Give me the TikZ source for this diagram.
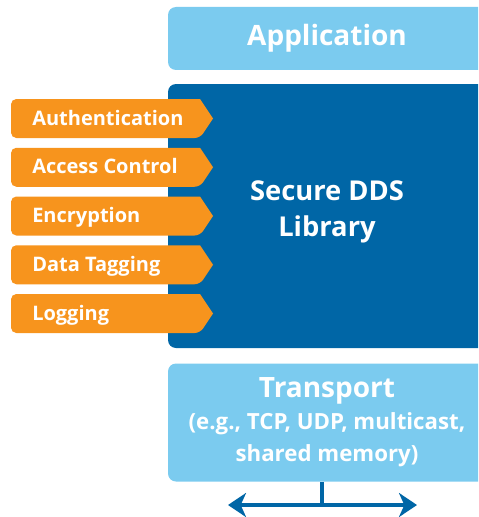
\documentclass[tikz,border=0pt]{standalone}
\usepackage{fontspec}
\setmainfont{Open Sans}
\usetikzlibrary{arrows.meta}
\definecolor{appblue}{HTML}{7BCBEF}
\definecolor{libblue}{HTML}{0066A6}
\definecolor{taborange}{HTML}{F7941D}
\tikzset{
  stackbox/.style={fill=appblue, rounded corners=6pt, minimum width=238.5pt, text=white, font=\bfseries, inner sep=0pt},
  tabtext/.style={text=white, font=\bfseries\fontsize{15}{18}\selectfont, inner sep=0pt, anchor=base west},
  wire/.style={libblue, line width=3pt}
}
\begin{document}
\begin{tikzpicture}[x=0.75pt,y=-0.75pt]
\useasboundingbox (0,0) rectangle (478,517);
\clip (0,0) rectangle (478,517);
% the three layers, running off the right edge
\node[stackbox, minimum height=47.25pt] (app) at (327,38.5) {\fontsize{21}{24}\selectfont Application};
\node[stackbox, fill=libblue, minimum height=198pt] (lib) at (327,216) {};
\node[text=white, font=\bfseries\fontsize{20.5}{27}\selectfont, align=center] (libname) at (327,212) {Secure DDS\\Library};
\node[stackbox, minimum height=88.5pt, align=center, font=\bfseries\fontsize{16.7}{24}\selectfont] (transport) at (327,422.5)
  {{\fontsize{21}{24}\selectfont Transport}\\(e.g., TCP, UDP, multicast,\\shared memory)};
% plugin tabs on the library
\foreach \name/\txt [count=\i] in {auth/Authentication, access/Access Control, crypto/Encryption, tagging/Data Tagging, logging/Logging} {
  \pgfmathsetmacro\yc{118.5+48.75*(\i-1)}
  \fill[taborange] (213,\yc) -- (200,\yc-19.5) [rounded corners=4pt]-- (11,\yc-19.5) -- (11,\yc+19.5) -- (200,\yc+19.5) [sharp corners]-- cycle;
  \node[tabtext] (\name) at (32,\yc+6.5) {\txt};
}
% network below the transport
\coordinate (split) at (322,505);
\coordinate (westend) at (228,505);
\coordinate (eastend) at (417,505);
\draw[wire] (transport.south -| split) -- (split);
\draw[wire, {Stealth[length=13.5pt,width=18pt,inset=4pt]}-{Stealth[length=13.5pt,width=18pt,inset=4pt]}] (westend) -- (eastend);
\end{tikzpicture}
\end{document}
